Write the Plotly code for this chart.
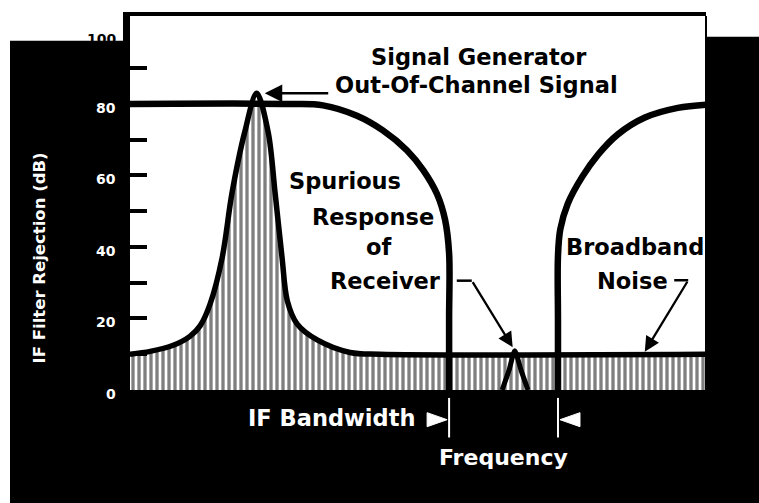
import plotly.graph_objects as go

# ---- data -------------------------------------------------------------
# Received spectrum: out-of-channel generator tone sitting on broadband noise
spec_freq = [0, 3.5, 7.5, 10.4, 12.2, 13.9, 16.0, 17.7, 19.9, 22.0, 24.0, 25.2,
             26.4, 27.3, 29.0, 32.5, 38.2, 43.4, 100]
spec_db = [10, 10.8, 12.5, 15, 18, 24, 37, 55, 72, 83, 72, 55,
           37, 25, 18.5, 14, 10.5, 10, 10]

# Spurious response of the receiver inside the IF passband
spur_freq = [64.6, 65.8, 66.8, 67.9, 69.1]
spur_db = [0, 5.5, 11, 5.5, 0]

# IF filter rejection, lower and upper skirts
filt_lo_freq = [0, 27.8, 33.5, 39.4, 43.9, 48.1, 50.9, 53.3, 54.7, 55.4, 55.4, 55.4]
filt_lo_db = [80, 80, 79.6, 76.7, 72.6, 67.0, 61.5, 54.8, 47.6, 38.2, 20, 0]
filt_hi_freq = [74.3, 74.3, 74.3, 74.7, 76.0, 78.5, 81.3, 84.7, 89.4, 95.1, 100]
filt_hi_db = [0, 20, 37.4, 44.9, 52.1, 59.6, 65.9, 71.5, 76.2, 78.9, 79.8]

# IF bandwidth edges (frequency units)
bw_edges = [55.4, 74.3]

# y-axis ticks and their labels
tick_vals = [10, 20, 30, 40, 50, 60, 70, 80, 90]
label_vals = [0, 20, 40, 60, 80, 100]
label_text = ["0", "20", "40", "60", "80", "100"]

# ---- styling ------------------------------------------------------------
FONT = "DejaVu Sans"
W, H = 759, 503
ML, MR, MT, MB = 130, 53, 12, 113
PW, PH = W - ML - MR, H - MT - MB


def px_x(p):
    """figure pixel column -> paper x"""
    return (p - ML) / PW


def px_y(p):
    """figure pixel row -> paper y"""
    return (H - MB - p) / PH


fig = go.Figure()

# hatched spectrum
fig.add_trace(go.Scatter(
    x=spec_freq, y=spec_db, mode="lines",
    line=dict(color="black", width=5.5, shape="spline", smoothing=0.9),
    fill="tozeroy",
    fillpattern=dict(shape="|", size=6, solidity=0.55,
                     fgcolor="black", bgcolor="white"),
    hoverinfo="skip", showlegend=False,
))
fig.add_trace(go.Scatter(
    x=spur_freq, y=spur_db, mode="lines",
    line=dict(color="black", width=5, shape="spline", smoothing=0.6),
    hoverinfo="skip", showlegend=False,
))
for fx, fy in ((filt_lo_freq, filt_lo_db), (filt_hi_freq, filt_hi_db)):
    fig.add_trace(go.Scatter(
        x=fx, y=fy, mode="lines",
        line=dict(color="black", width=6.5, shape="spline", smoothing=1.0),
        hoverinfo="skip", showlegend=False,
    ))

shapes = [
    # white paper around the black panel
    dict(type="rect", xref="paper", yref="paper", layer="below",
         x0=px_x(-5), x1=px_x(124), y0=px_y(37), y1=px_y(-5),
         fillcolor="white", line_width=0),
    dict(type="rect", xref="paper", yref="paper", layer="below",
         x0=px_x(124), x1=px_x(W + 5), y0=px_y(33), y1=px_y(-5),
         fillcolor="white", line_width=0),
    dict(type="rect", xref="paper", yref="paper", layer="below",
         x0=px_x(-5), x1=px_x(10), y0=px_y(H + 5), y1=px_y(-5),
         fillcolor="white", line_width=0),
    # thin right edge of the plotting box
    dict(type="line", xref="paper", yref="paper", x0=1, x1=1, y0=0, y1=1,
         line=dict(color="black", width=2)),
]

# IF bandwidth markers below the axis
for i, edge in enumerate(bw_edges):
    shapes.append(dict(type="line", xref="x", yref="paper",
                       x0=edge, x1=edge, y0=px_y(398), y1=px_y(438),
                       line=dict(color="white", width=2)))
    sgn = -1 if i == 0 else 1
    shapes.append(dict(
        type="path", xref="x", yref="paper",
        xsizemode="pixel", ysizemode="pixel",
        xanchor=edge, yanchor=px_y(420),
        path=f"M {sgn*22},7 L {sgn*2},0 L {sgn*22},-7 Z",
        fillcolor="white", line=dict(color="white", width=1)))

# short horizontal leaders on the pointer arrows
shapes.append(dict(type="line", xref="x", yref="y",
                   xsizemode="pixel", ysizemode="pixel",
                   xanchor=spur_freq[2], yanchor=spur_db[2],
                   x0=-58, x1=-43, y0=70, y1=70,
                   line=dict(color="black", width=2.5)))
shapes.append(dict(type="line", xref="x", yref="y",
                   xsizemode="pixel", ysizemode="pixel",
                   xanchor=89.1, yanchor=spec_db[-1],
                   x0=31, x1=45, y0=74, y1=74,
                   line=dict(color="black", width=2.5)))


def label(text, x, y, size=22.5, color="black", **kw):
    kw.setdefault("xanchor", "center")
    kw.setdefault("yanchor", "middle")
    return dict(text=text, x=x, y=y, showarrow=False,
                font=dict(family=FONT, size=size, color=color, weight="bold"),
                **kw)


peak_i = spec_db.index(max(spec_db))
annotations = [
    label("Signal Generator", 60.6, 93.0),
    label("Out-Of-Channel Signal", 60.1, 85.3),
    label("Spurious", 37.3, 58.4),
    label("Response", 42.2, 48.3),
    label("of", 43.2, 39.9),
    label("Receiver", 44.4, 30.6),
    label("Broadband", 87.7, 39.9),
    label("Noise", 87.2, 30.4),
    label("IF Bandwidth", bw_edges[0], px_y(418), color="white",
          yref="paper", xanchor="right", xshift=-32),
    label("Frequency", (bw_edges[0] + bw_edges[1]) / 2, px_y(458), size=22,
          color="white", yref="paper"),
    label("IF Filter Rejection (dB)", px_x(39), px_y(257), size=16.5,
          color="white", xref="paper", yref="paper", textangle=-90),
    # pointer arrows
    dict(text="", x=spec_freq[peak_i], y=spec_db[peak_i], ax=73, ay=0,
         showarrow=True, arrowhead=2, arrowsize=1.4, arrowwidth=2.5,
         arrowcolor="black", standoff=8),
    dict(text="", x=spur_freq[2], y=spur_db[2], ax=-43, ay=-70,
         showarrow=True, arrowhead=2, arrowsize=1.3, arrowwidth=2.3,
         arrowcolor="black", standoff=4),
    dict(text="", x=89.1, y=spec_db[-1], ax=45, ay=-74,
         showarrow=True, arrowhead=2, arrowsize=1.3, arrowwidth=2.3,
         arrowcolor="black", standoff=3),
]

# y tick labels (white on the black panel; the top one falls on the paper)
for v, t in zip(label_vals, label_text):
    annotations.append(label(t, 0, v, size=14,
                             color="black" if v == 100 else "white",
                             xref="paper", xanchor="right", xshift=-12,
                             yshift=-7 if v == 100 else -4))

fig.update_layout(
    width=W, height=H,
    margin=dict(l=ML, r=MR, t=MT, b=MB, pad=0),
    paper_bgcolor="black", plot_bgcolor="white",
    shapes=shapes, annotations=annotations,
    xaxis=dict(range=[0, 100], showgrid=False, zeroline=False,
               showticklabels=False, ticks="",
               showline=True, mirror=True, linecolor="black", linewidth=4),
    yaxis=dict(range=[0, 104.6], showgrid=False, zeroline=False,
               tickmode="array", tickvals=tick_vals, showticklabels=False,
               ticks="inside", ticklen=17, tickwidth=3.5, tickcolor="black",
               showline=True, linecolor="black", linewidth=7),
)

fig.write_html("out.html")
